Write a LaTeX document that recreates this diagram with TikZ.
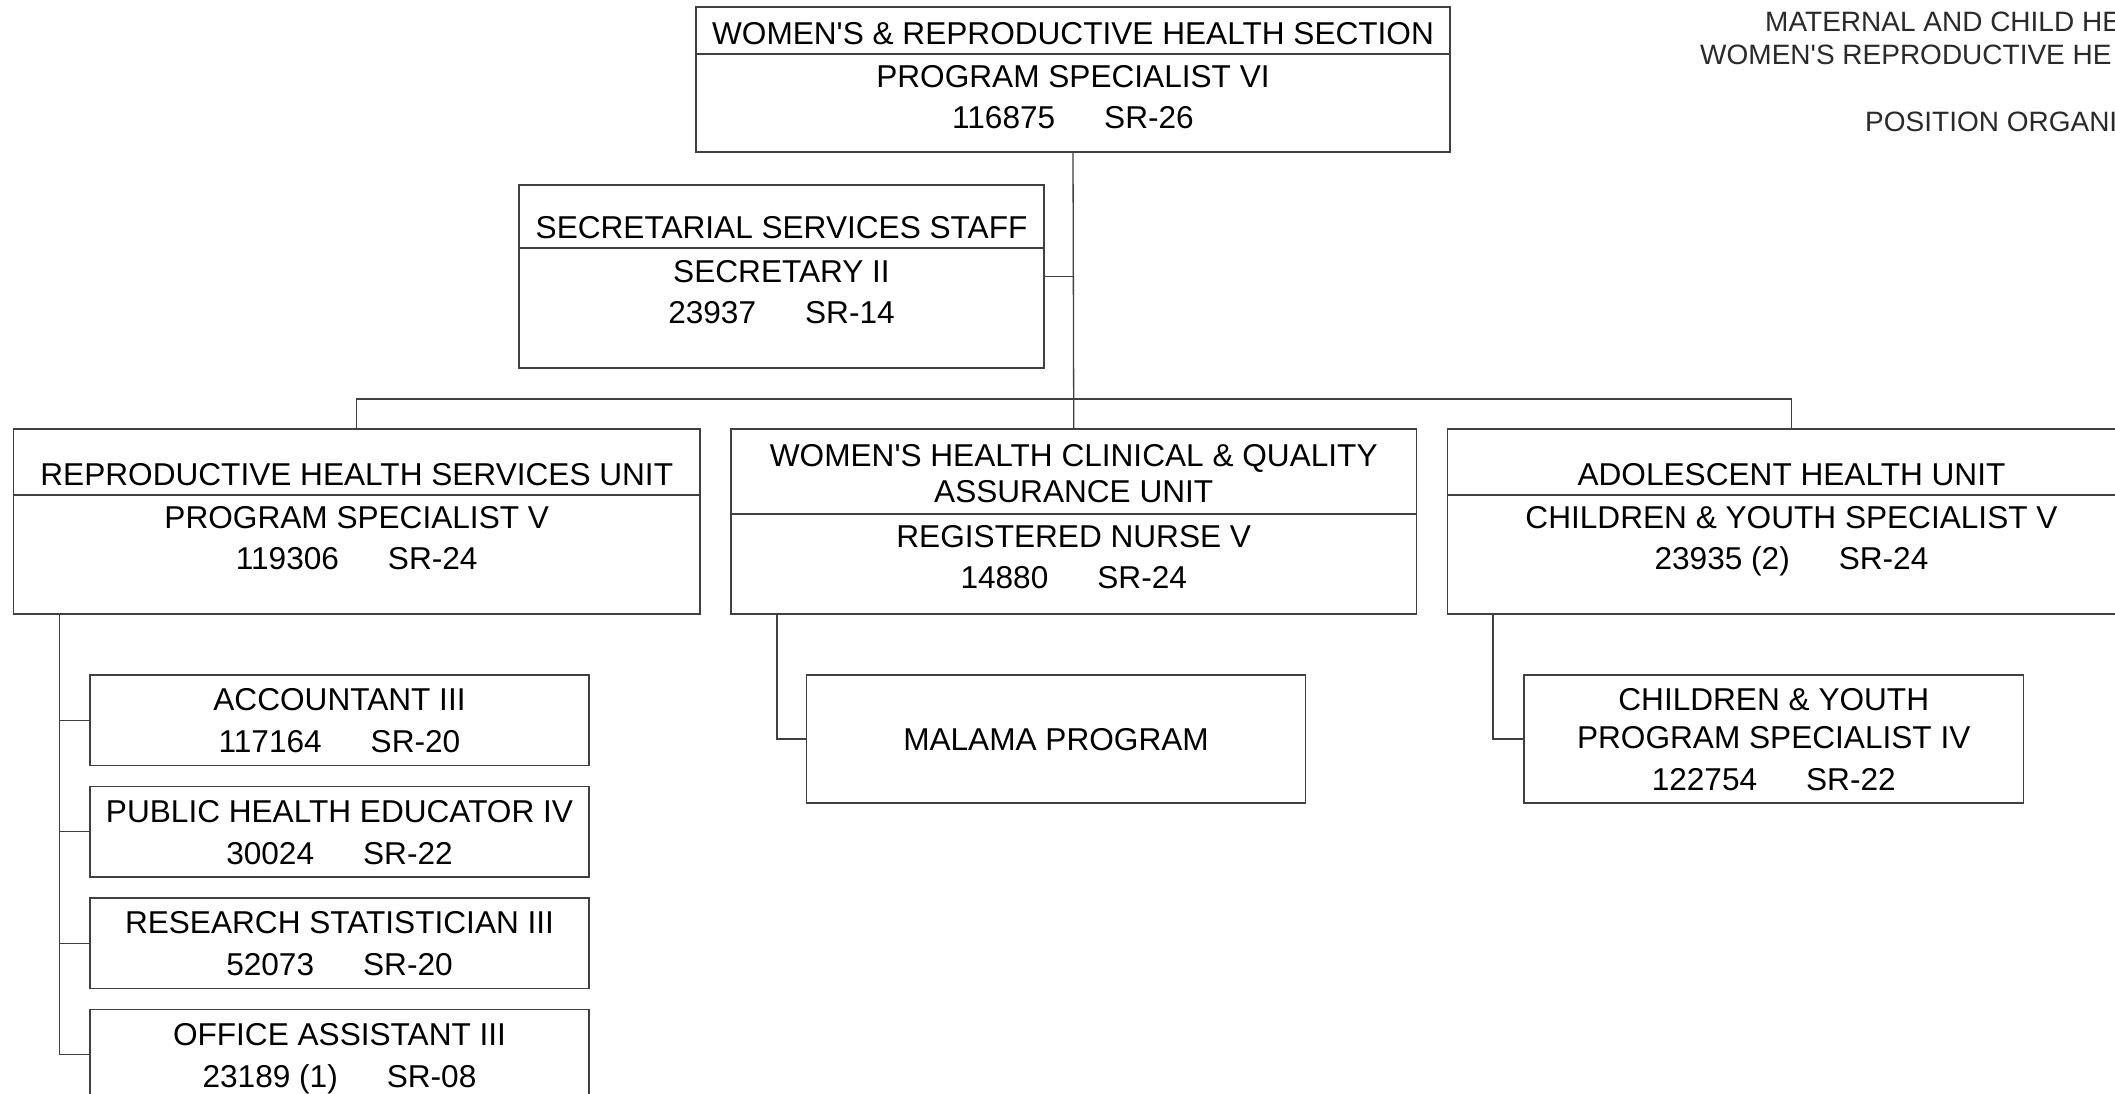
\documentclass[tikz,border=0pt]{standalone}
\usepackage{fontspec}
\setmainfont{Liberation Sans}
\definecolor{lc}{HTML}{404040}
\definecolor{hc}{HTML}{2A2A2A}
\tikzset{
  orgbox/.style={draw=lc, line width=1.3pt, inner sep=0pt, outer sep=0pt, rectangle, anchor=north west},
  ln/.style={draw=lc, line width=1.3pt},
  txt/.style={font=\fontsize{31.6}{40}\selectfont, inner sep=0pt, anchor=base, text=black},
  hdr/.style={font=\fontsize{28}{34}\selectfont, inner sep=0pt, anchor=base west, text=hc},
}
\newcommand{\gapsp}{\hspace*{49pt}}
\newcommand{\apos}{\textquotesingle}
\begin{document}
\begin{tikzpicture}[x=1pt,y=-1pt]
\useasboundingbox (0,0) rectangle (2115,1094);
\fill[white] (0,0) rectangle (2115,1094);
\clip (0,0) rectangle (2115,1094);

% header text (cut at right edge, as in the reference)
\node[hdr] (h1) at (1765,32) {MATERNAL AND CHILD HE};
\node[hdr] (h2) at (1700,64.5) {WOMEN\apos S REPRODUCTIVE HE};
\node[hdr] (h3) at (1865,132) {POSITION ORGANI};

% boxes
\node[orgbox, minimum width=754pt, minimum height=145pt] (top) at (696,7) {};
\node[orgbox, minimum width=525pt, minimum height=183pt] (sec) at (519,185) {};
\node[orgbox, minimum width=686.5pt, minimum height=185pt] (rh) at (13.5,429) {};
\node[orgbox, minimum width=685.5pt, minimum height=185pt] (wh) at (731,429) {};
\node[orgbox, minimum width=688pt, minimum height=185pt] (ah) at (1447.5,429) {};
\node[orgbox, minimum width=499pt, minimum height=90.5pt] (acc) at (90,675) {};
\node[orgbox, minimum width=499pt, minimum height=90.5pt] (phe) at (90,786.5) {};
\node[orgbox, minimum width=499pt, minimum height=90.5pt] (rs) at (90,898) {};
\node[orgbox, minimum width=499pt, minimum height=90.5pt] (oa) at (90,1009.5) {};
\node[orgbox, minimum width=499pt, minimum height=128pt] (ml) at (806.7,675) {};
\node[orgbox, minimum width=499.5pt, minimum height=128pt] (cy) at (1524,675) {};

% dividers
\draw[ln] (top.west |- 0,54) -- (top.east |- 0,54);
\draw[ln] (sec.west |- 0,248) -- (sec.east |- 0,248);
\draw[ln] (rh.west |- 0,495) -- (rh.east |- 0,495);
\draw[ln] (wh.west |- 0,514) -- (wh.east |- 0,514);
\draw[ln] (ah.west |- 0,495) -- (ah.east |- 0,495);

% texts
\node[txt] (t1a) at (1073,44.3) {WOMEN\apos S \& REPRODUCTIVE HEALTH SECTION};
\node[txt] (t1b) at (1073,87.1) {PROGRAM SPECIALIST VI};
\node[txt] (t1c) at (1073,128.7) {116875\gapsp SR-26};

\node[txt] (t2a) at (781.5,238.3) {SECRETARIAL SERVICES STAFF};
\node[txt] (t2b) at (781.5,282) {SECRETARY II};
\node[txt] (t2c) at (781.5,323.3) {23937\gapsp SR-14};

\node[txt] (t3a) at (356.75,485.3) {REPRODUCTIVE HEALTH SERVICES UNIT};
\node[txt] (t3b) at (356.75,528.3) {PROGRAM SPECIALIST V};
\node[txt] (t3c) at (356.75,569.3) {119306\gapsp SR-24};

\node[txt] (t4a) at (1073.75,466.3) {WOMEN\apos S HEALTH CLINICAL \& QUALITY};
\node[txt] (t4b) at (1073.75,502.3) {ASSURANCE UNIT};
\node[txt] (t4c) at (1073.75,547.3) {REGISTERED NURSE V};
\node[txt] (t4d) at (1073.75,588.3) {14880\gapsp SR-24};

\node[txt] (t5a) at (1791.5,485.3) {ADOLESCENT HEALTH UNIT};
\node[txt] (t5b) at (1791.5,528.3) {CHILDREN \& YOUTH SPECIALIST V};
\node[txt] (t5c) at (1791.5,569.3) {23935 (2)\gapsp SR-24};

\node[txt] (t6a) at (339.5,710.8) {ACCOUNTANT III};
\node[txt] (t6b) at (339.5,752.6) {117164\gapsp SR-20};
\node[txt] (t7a) at (339.5,822.3) {PUBLIC HEALTH EDUCATOR IV};
\node[txt] (t7b) at (339.5,864.1) {30024\gapsp SR-22};
\node[txt] (t8a) at (339.5,933.8) {RESEARCH STATISTICIAN III};
\node[txt] (t8b) at (339.5,975.6) {52073\gapsp SR-20};
\node[txt] (t9a) at (339.5,1045.3) {OFFICE ASSISTANT III};
\node[txt] (t9b) at (339.5,1087.1) {23189 (1)\gapsp SR-08};

\node[txt] (t10) at (1056,750.3) {MALAMA PROGRAM};

\node[txt] (t11a) at (1773.75,710.3) {CHILDREN \& YOUTH};
\node[txt] (t11b) at (1773.75,748.3) {PROGRAM SPECIALIST IV};
\node[txt] (t11c) at (1773.75,790.3) {122754\gapsp SR-22};

% connectors
\draw[ln] (top.south) -- (wh.north);
\draw[ln] (sec.east) -- (sec.east -| top.south);
\coordinate (bus) at (1073,399);
\draw[ln] (rh.north) |- (bus) -| (ah.north);

\coordinate (rv) at (59.5,614);
\draw[ln] (rv) |- (oa.west);
\foreach \b in {acc,phe,rs} \draw[ln] (rv |- \b.west) -- (\b.west);

\coordinate (mv) at (777,614);
\draw[ln] (mv) |- (ml.west);
\coordinate (cv) at (1493,614);
\draw[ln] (cv) |- (cy.west);
\end{tikzpicture}
\end{document}
